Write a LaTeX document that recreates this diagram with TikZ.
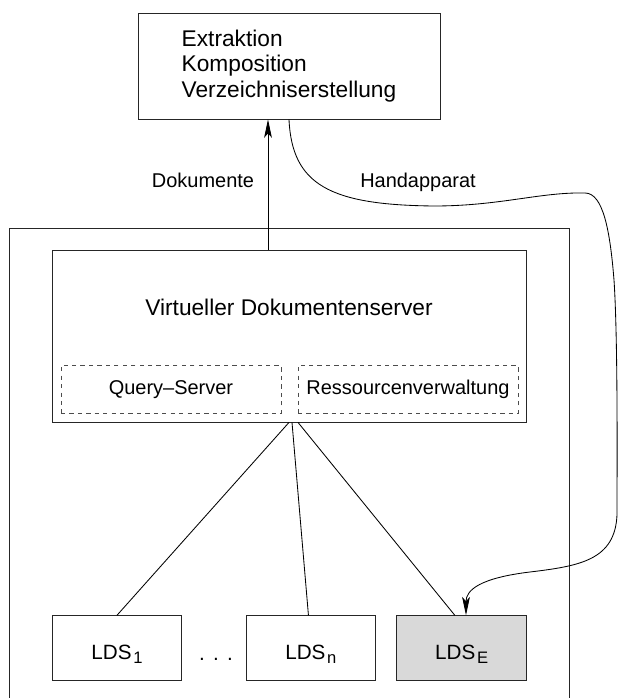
\documentclass[tikz,border=0pt]{standalone}
\usepackage{fontspec}
\setmainfont{Liberation Sans}
\usetikzlibrary{shapes,arrows.meta}
\tikzstyle{box}=[rectangle,draw=black!85,inner sep=0pt]
\tikzstyle{dbox}=[rectangle,draw=black!70,dashed,minimum width=5.5cm,minimum height=1.19cm,font=\fontsize{14.2}{17}\selectfont]
\tikzstyle{ldsbox}=[box,minimum width=3.24cm,minimum height=1.61cm,text height=0.575cm,text depth=0pt,font=\fontsize{14.7}{17}\selectfont]
\tikzstyle{lbl}=[anchor=base,font=\fontsize{14.2}{17}\selectfont]
\tikzstyle{arr}=[-{Stealth[length=13pt,width=5.5pt,inset=3pt]}]
\newcommand{\ldssub}[1]{LDS\hspace{1.2pt}\raisebox{-2.6pt}{\fontsize{11.8}{13}\selectfont #1}}

\begin{document}
\begin{tikzpicture}[line width=0.6pt]
\useasboundingbox (0,0) rectangle (15.45,17.45);
\node[box,minimum width=7.55cm,minimum height=2.65cm,align=left,font=\fontsize{16.15}{18.3}\selectfont] (tasks) at (7.225,15.8) {Extraktion\\Komposition\\Verzeichniserstellung};
\draw[draw=black!85] (0.225,0) |- (14.225,11.75) -- (14.225,0);
\node[box,minimum width=11.85cm,minimum height=4.3cm] (vds) at (7.225,9.05) {};
\node[anchor=base,font=\fontsize{16.15}{18.3}\selectfont] (vdsname) at (7.225,9.55) {Virtueller Dokumentenserver};
\node[dbox] (query) at (4.275,7.715) {Query–Server};
\node[dbox] (ressourcen) at (10.2,7.715) {Ressourcenverwaltung};
\node[ldsbox] (lds1) at (2.925,1.2525) {\ldssub{1}};
\node[ldsbox] (ldsn) at (7.771,1.2525) {\ldssub{n}};
\node[ldsbox,fill=black!15] (ldse) at (11.54,1.2525) {\ldssub{E}};
\node[anchor=base,font=\fontsize{14.7}{17}\selectfont] (dots) at (5.4,0.95) {.\hspace{0.4em}.\hspace{0.4em}.};
\node[lbl] (dok) at (5.075,12.75) {Dokumente};
\node[lbl] (hand) at (10.45,12.75) {Handapparat};
% server to local stores
\draw (vds.south) -- (lds1.north);
\draw ([xshift=0.075cm]vds.south) -- ([xshift=-0.06cm]ldsn.north);
\draw ([xshift=0.225cm]vds.south) -- ([xshift=-0.17cm]ldse.north);
% documents up, handapparat back down
\draw[arr] ([xshift=-0.525cm]vds.north) -- ([xshift=-0.525cm]tasks.south);
\draw[arr] (tasks.south) .. controls (7.3,12.825) and (8.25,12.325) .. (10.85,12.3)
  .. controls (12.5,12.3) and (13.5,12.65) .. (14.625,12.625)
  .. controls (15.075,12.625) and (15.25,11.7) .. (15.35,10.45)
  .. controls (15.45,8.95) and (15.425,5.7) .. (15.425,4.575)
  .. controls (15.375,3.45) and (14.5,3.3) .. (13.25,3.15)
  .. controls (12.0,3.0) and (11.65,2.7) .. ([xshift=0.11cm]ldse.north);
\end{tikzpicture}
\end{document}
